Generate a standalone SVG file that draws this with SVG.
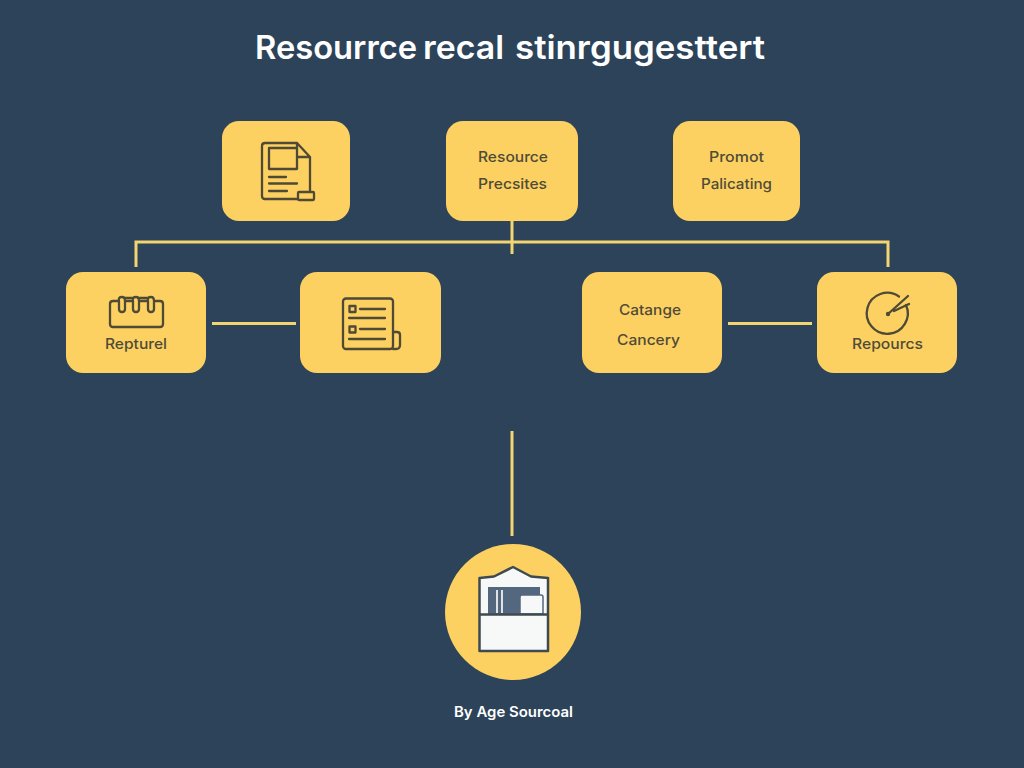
<svg xmlns="http://www.w3.org/2000/svg" width="1024" height="768" viewBox="0 0 1024 768">
<style>
.n{fill:#fcd162}
.c{fill:none;stroke:#f2d473;stroke-width:3;stroke-linecap:butt}
.i{fill:none;stroke:#4f4a35;stroke-width:2.300;stroke-linejoin:round;stroke-linecap:round}
text{font-family:"Inter","Liberation Sans",sans-serif}
.l{font-size:14.500px;fill:#4f4b38;font-weight:500}
</style>
<rect width="1024" height="768" fill="#2d4359"/>
<text y="59" font-size="33" font-weight="600" fill="#fff"><tspan x="255" textLength="162" lengthAdjust="spacingAndGlyphs">Resourrce</tspan><tspan x="423" textLength="81" lengthAdjust="spacingAndGlyphs">recal</tspan><tspan x="515" textLength="250" lengthAdjust="spacingAndGlyphs">stinrgugesttert</tspan></text>
<g id="connectors">
<path class="c" d="M136 267V242H888V267M512 221V254M212 323.500H296M728 323.500H812M512 431V536"/>
</g>
<g id="node-doc">
<rect class="n" x="222" y="121" width="128" height="100" rx="17"/>
<path class="i" d="M298 199H265Q262 199 262 196V146Q262 143 265 143H297L310 157V192M297 143V157H310M269 148H297V169H269ZM269 177H286M269 183.500H297M269 191H287"/>
<rect class="i" x="298" y="192" width="16" height="8" rx="1"/>
</g>
<g id="node-resource">
<rect class="n" x="446" y="121" width="132" height="100" rx="17"/>
<text class="l" x="478" y="162" textLength="70" lengthAdjust="spacingAndGlyphs">Resource</text>
<text class="l" x="478" y="189" textLength="69" lengthAdjust="spacingAndGlyphs">Precsites</text>
</g>
<g id="node-prompt">
<rect class="n" x="673" y="121" width="127" height="100" rx="17"/>
<text class="l" x="709" y="162" textLength="55" lengthAdjust="spacingAndGlyphs">Promot</text>
<text class="l" x="701" y="189" textLength="71" lengthAdjust="spacingAndGlyphs">Palicating</text>
</g>
<g id="node-repturel">
<rect class="n" x="66" y="272" width="140" height="101" rx="17"/>
<path class="i" d="M119 301H113Q110 301 110 304V324Q110 327 113 327H160Q163 327 163 324V304Q163 301 160 301H154M125 301H133M139 301H148"/>
<path class="i" d="M119 301Q118 297 122 297Q125 297 125 301V309Q125 312 122 312Q119 312 119 309ZM133 301Q132 297 136 297Q139 297 139 301V309Q139 312 136 312Q133 312 133 309ZM148 301Q147 297 151 297Q154 297 154 301V309Q154 312 151 312Q148 312 148 309ZM125 298H133M139 298H148"/>
<text class="l" x="105" y="349" textLength="62" lengthAdjust="spacingAndGlyphs">Repturel</text>
</g>
<g id="node-list">
<rect class="n" x="300" y="272" width="141" height="101" rx="17"/>
<rect class="i" x="343" y="298.500" width="50" height="50.500" rx="3"/>
<path class="i" d="M393 332H397Q400 332 400 335V345Q400 349 396 349H393M360 309H385M349 318H385M360 329H385M349 339H385"/>
<rect class="i" x="349.500" y="306" width="6" height="6"/><rect class="i" x="349.500" y="326.500" width="6" height="6"/>
</g>
<g id="node-catange">
<rect class="n" x="582" y="272" width="140" height="101" rx="17"/>
<text class="l" x="619" y="315" textLength="62" lengthAdjust="spacingAndGlyphs">Catange</text>
<text class="l" x="617" y="345" textLength="63" lengthAdjust="spacingAndGlyphs">Cancery</text>
</g>
<g id="node-repourcs">
<rect class="n" x="817" y="272" width="140" height="101" rx="17"/>
<path class="i" d="M899 296.500A20.500 20.500 0 1 0 906 305"/>
<path class="i" d="M888 314L908 296M894 311L909 304"/>
<circle cx="888" cy="314" r="2.200" fill="#4f4a35"/>
<text class="l" x="852" y="349" textLength="71" lengthAdjust="spacingAndGlyphs">Repourcs</text>
</g>
<g id="node-archive">
<circle class="n" cx="513" cy="612" r="68"/>
<path d="M479.500 578L494 576.500L513 567L531 576.500L548 578V651H479.500Z" fill="#f7f8f8" stroke="#3e4a50" stroke-width="2.500" stroke-linejoin="round"/>
<rect x="488" y="587" width="52" height="27" fill="#53677f"/>
<path d="M497 590V613M502 590V613" stroke="#dfe3e6" stroke-width="2"/>
<path d="M520 614V597Q520 595 522 595H541Q543 595 543 597V614Z" fill="#f7f8f8" stroke="#53677f" stroke-width="1.500"/>
<path d="M480 614.500H548" stroke="#3e4a50" stroke-width="2.500"/>
</g>
<text x="454" y="717" font-size="14.500" font-weight="600" fill="#fff" textLength="119" lengthAdjust="spacingAndGlyphs">By Age Sourcoal</text>
</svg>
